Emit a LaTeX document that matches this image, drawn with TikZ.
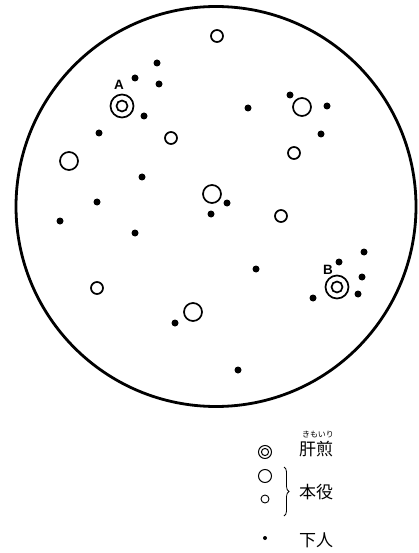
\documentclass[tikz,border=0pt]{standalone}
\usepackage{fontspec}
\newfontfamily\jpfont{Noto Sans CJK JP}
\newfontfamily\labfont{Liberation Sans}
\usetikzlibrary{decorations.pathreplacing}
\tikzset{
  dotp/.style={circle,fill=black,inner sep=0pt,minimum size=7pt},
  opens/.style={circle,draw=black,line width=1.7pt,inner sep=0pt,minimum size=12pt},
  openl/.style={circle,draw=black,line width=1.7pt,inner sep=0pt,minimum size=18pt},
  dbl/.style={circle,draw=black,line width=1.7pt,inner sep=0pt,minimum size=23pt,
    path picture={\draw[line width=1.7pt] (path picture bounding box.center) circle (5.5pt);}},
  lab/.style={font=\labfont\bfseries\fontsize{13.5}{13.5}\selectfont,inner sep=0pt},
  jp/.style={font=\jpfont\fontsize{17}{17}\selectfont,inner sep=0pt,anchor=west},
}
\begin{document}
\begin{tikzpicture}[x=1pt,y=-1pt]
\useasboundingbox (0,0) rectangle (418,553);
\draw[line width=2.8pt] (216,206.5) circle (200);
% double circles
\node[dbl] (A) at (122,106) {};
\node[lab] (Alab) at (119,84.5) {A};
\node[dbl] (B) at (337,287) {};
\node[lab] (Blab) at (328,270) {B};
% large open circles
\node[openl] (l1) at (69,161) {};
\node[openl] (l2) at (302,107) {};
\node[openl] (l3) at (212,194) {};
\node[openl] (l4) at (193,312) {};
% small open circles
\node[opens] (s1) at (217,36) {};
\node[opens] (s2) at (171,138) {};
\node[opens] (s3) at (294,153) {};
\node[opens] (s4) at (281,216) {};
\node[opens] (s5) at (97,288) {};
% dots
\node[dotp] (d1) at (157,63) {};
\node[dotp] (d2) at (135,78) {};
\node[dotp] (d3) at (159,84) {};
\node[dotp] (d4) at (144,116) {};
\node[dotp] (d5) at (99,133) {};
\node[dotp] (d6) at (142,177) {};
\node[dotp] (d7) at (97,202) {};
\node[dotp] (d8) at (248,108) {};
\node[dotp] (d9) at (290,95) {};
\node[dotp] (d10) at (327,106) {};
\node[dotp] (d11) at (321,134) {};
\node[dotp] (d12) at (227,203) {};
\node[dotp] (d13) at (60,221) {};
\node[dotp] (d14) at (135,233) {};
\node[dotp] (d15) at (211,214) {};
\node[dotp] (d16) at (256,269) {};
\node[dotp] (d17) at (364,252) {};
\node[dotp] (d18) at (339,262) {};
\node[dotp] (d19) at (362,277) {};
\node[dotp] (d20) at (358,294) {};
\node[dotp] (d21) at (313,298) {};
\node[dotp] (d22) at (175,323) {};
\node[dotp] (d23) at (238,370) {};
% legend
\node[circle,draw=black,line width=1pt,inner sep=0pt,minimum size=13pt,
  path picture={\draw[line width=1pt] (path picture bounding box.center) circle (3.6pt);}] (k1) at (265,452) {};
\node[circle,draw=black,line width=1pt,inner sep=0pt,minimum size=13pt] (k2) at (265,476) {};
\node[circle,draw=black,line width=0.9pt,inner sep=0pt,minimum size=8pt] (k3) at (265,499) {};
\node[circle,fill=black,inner sep=0pt,minimum size=4pt] (k4) at (265,538) {};
\coordinate (bt) at (284,467);
\coordinate (bb) at (284,516);
\draw[line width=0.8pt,decorate,decoration={brace,amplitude=5pt}] (bt) -- (bb);
\node[jp] (t1) at (299,449) {肝煎};
\node[font=\jpfont\fontsize{8}{8}\selectfont,inner sep=0pt] (r1) at (318,435) {きもいり};
\node[jp] (t2) at (299,492) {本役};
\node[jp] (t3) at (299,540) {下人};
\end{tikzpicture}
\end{document}
